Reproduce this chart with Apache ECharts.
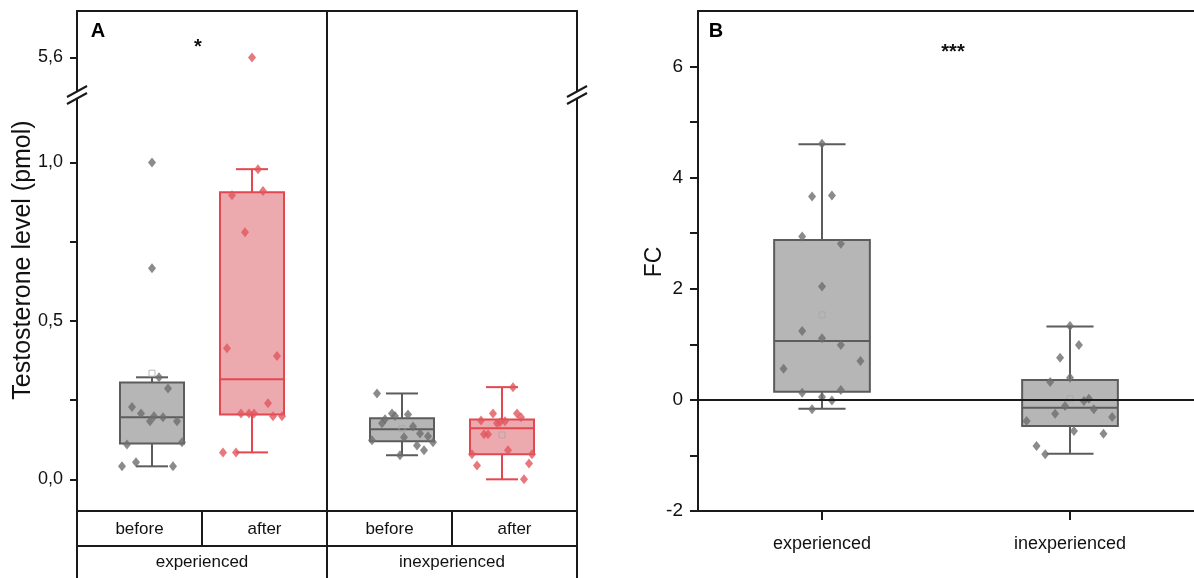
<!DOCTYPE html>
<html><head><meta charset="utf-8">
<script src="https://cdn.jsdelivr.net/npm/echarts@6/dist/echarts.min.js"></script>
<style>html,body{margin:0;padding:0;background:#fff}#c{width:1194px;height:578px}</style>
</head><body><div id="c"></div>
<script>
// ================= DATA =================
const groupsA = ['before', 'after', 'before', 'after'];
const experienceA = ['experienced', 'inexperienced'];
const categoriesB = ['experienced', 'inexperienced'];

const ticksALow = [0, 0.25, 0.5, 0.75, 1.0];
const labelsALow = [0, 0.5, 1.0];
const ticksAHigh = [5.6];
const ticksB = [-2, -1, 0, 1, 2, 3, 4, 5, 6];
const labelsB = [-2, 0, 2, 4, 6];

// box statistics: [whisker low, Q1, median, Q3, whisker high]
const boxExpBefore   = [0.041, 0.113, 0.196, 0.306, 0.322];
const boxExpAfter    = [0.085, 0.205, 0.316, 0.906, 0.979];
const boxInexpBefore = [0.076, 0.120, 0.158, 0.193, 0.271];
const boxInexpAfter  = [0.000, 0.079, 0.161, 0.189, 0.291];
const boxFcExp       = [-0.16, 0.145, 1.06, 2.88, 4.60];
const boxFcInexp     = [-0.97, -0.47, -0.14, 0.36, 1.32];

// means (hollow squares)
const meanExpBefore = 0.335;
const meanInexpBefore = 0.16;
const meanInexpAfter = 0.14;
const meanFcExp = 1.53;
const meanFcInexp = 0.02;

// individual values (testosterone, pmol)
const ptsExpBefore = [0.041, 0.054, 0.041, 0.110, 0.117, 0.228, 0.208, 0.183, 0.199, 0.196, 0.183, 0.287, 0.322, 0.666, 1.000];
const ptsExpAfter = [0.085, 0.085, 0.208, 0.208, 0.208, 0.199, 0.199, 0.240, 0.414, 0.389, 0.780, 0.897, 0.910, 0.979, 5.6];
const ptsInexpBefore = [0.271, 0.208, 0.200, 0.205, 0.190, 0.177, 0.167, 0.145, 0.136, 0.133, 0.123, 0.117, 0.107, 0.092, 0.076];
const ptsInexpAfter = [0.291, 0.208, 0.208, 0.196, 0.186, 0.177, 0.180, 0.183, 0.142, 0.142, 0.092, 0.079, 0.079, 0.044, 0.050, 0.000];
// individual values (FC)
const ptsFcExp = [4.61, 3.66, 3.68, 2.94, 2.81, 2.04, 1.24, 1.11, 0.99, 0.70, 0.56, 0.13, 0.18, 0.05, -0.01, -0.17];
const ptsFcInexp = [1.33, 0.99, 0.76, 0.40, 0.32, -0.02, 0.02, -0.11, -0.17, -0.25, -0.31, -0.38, -0.56, -0.61, -0.83, -0.98];

// horizontal jitter of points (in group-axis units)
const jitExpBefore = [-0.6, -0.32, 0.42, -0.5, 0.6, -0.4, -0.22, -0.04, 0.04, 0.22, 0.5, 0.32, 0.14, 0, 0];
const jitExpAfter = [-0.58, -0.32, -0.22, -0.06, 0.04, 0.42, 0.6, 0.32, -0.5, 0.5, -0.14, -0.4, 0.22, 0.12, 0];
const jitInexpBefore = [-0.5, -0.2, -0.14, 0.12, -0.34, -0.4, 0.22, 0.36, 0.52, 0.04, -0.6, 0.62, 0.3, 0.44, -0.04];
const jitInexpAfter = [0.22, -0.18, 0.3, 0.38, -0.42, -0.1, -0.04, 0.06, -0.36, -0.28, 0.12, -0.6, 0.6, -0.5, 0.54, 0.44];
const jitFcExp = [0, -0.04, 0.04, -0.08, 0.076, 0, -0.08, 0, 0.076, 0.155, -0.155, -0.08, 0.076, 0, 0.04, -0.04];
const jitFcInexp = [0, 0.036, -0.04, 0, -0.08, 0.056, 0.076, -0.02, 0.096, -0.06, 0.17, -0.175, 0.016, 0.135, -0.135, -0.1];

// ================= LAYOUT / STYLE =================
const posA = [1.5, 3.5, 6.5, 8.5];     // group centres on hidden 0..10 axis
const posB = [0.5, 1.5];               // group centres on hidden 0..2 axis
const breakValue = 3;                  // values above this go to upper segment
const FONT = '"Liberation Sans", Arial, sans-serif';
const AXC = '#1a1a1a';
const GREY = { fill: '#b6b6b6', stroke: '#5c5c5c', pt: '#6e6e6e' };
const RED = { fill: '#eca9ae', stroke: '#e3474f', pt: '#e0565e' };

const L = { aLeft: 77, aWidth: 500, aTop: 11, aBreak: 96, aBottom: 511, bLeft: 698, bWidth: 502 };

function fmtComma(v) { return v.toFixed(1).replace('.', ','); }

function boxRender(boxW, capW, col) {
  return function (params, api) {
    const x = api.value(0);
    const pMin = api.coord([x, api.value(1)]);
    const pQ1 = api.coord([x, api.value(2)]);
    const pMd = api.coord([x, api.value(3)]);
    const pQ3 = api.coord([x, api.value(4)]);
    const pMax = api.coord([x, api.value(5)]);
    const w = api.size([boxW, 0])[0];
    const cw = api.size([capW, 0])[0];
    const cx = pMd[0];
    const ls = { stroke: col.stroke, lineWidth: 2 };
    return {
      type: 'group', children: [
        { type: 'line', shape: { x1: cx, y1: pQ3[1], x2: cx, y2: pMax[1] }, style: ls },
        { type: 'line', shape: { x1: cx - cw / 2, y1: pMax[1], x2: cx + cw / 2, y2: pMax[1] }, style: ls },
        { type: 'line', shape: { x1: cx, y1: pQ1[1], x2: cx, y2: pMin[1] }, style: ls },
        { type: 'line', shape: { x1: cx - cw / 2, y1: pMin[1], x2: cx + cw / 2, y2: pMin[1] }, style: ls },
        { type: 'rect', shape: { x: cx - w / 2, y: pQ3[1], width: w, height: pQ1[1] - pQ3[1] }, style: { fill: col.fill, stroke: col.stroke, lineWidth: 2 } },
        { type: 'line', shape: { x1: cx - w / 2, y1: pMd[1], x2: cx + w / 2, y2: pMd[1] }, style: ls }
      ]
    };
  };
}

function pts(vals, jit, pos, keep) {
  const out = [];
  vals.forEach((v, i) => { if (keep(v)) out.push([pos + jit[i], v]); });
  return out;
}
const low = v => v <= breakValue, high = v => v > breakValue, all = () => true;

const diamond = { symbol: 'diamond', symbolSize: [8, 10] };

const chart = echarts.init(document.getElementById('c'), null, { renderer: 'canvas' });

function breakMark(cx, cy) {
  return [
    { type: 'polygon', shape: { points: [[cx - 10, cy + 2], [cx + 10, cy - 9], [cx + 10, cy - 2], [cx - 10, cy + 9]] }, style: { fill: '#fff' }, z: 100 },
    { type: 'line', shape: { x1: cx - 10, y1: cy + 2, x2: cx + 10, y2: cy - 9 }, style: { stroke: AXC, lineWidth: 2 }, z: 101 },
    { type: 'line', shape: { x1: cx - 10, y1: cy + 9, x2: cx + 10, y2: cy - 2 }, style: { stroke: AXC, lineWidth: 2 }, z: 101 }
  ];
}

const lineOnlyY = (grid, min, max) => ({
  gridIndex: grid, type: 'value', position: 'right', min, max,
  axisLine: { show: true, onZero: false, lineStyle: { color: AXC, width: 2 } },
  axisTick: { show: false }, axisLabel: { show: false }, splitLine: { show: false }
});

const option = {
  backgroundColor: '#fff',
  animation: false,
  grid: [
    { left: L.aLeft, width: L.aWidth, top: L.aTop, height: L.aBreak - L.aTop },
    { left: L.aLeft, width: L.aWidth, top: L.aBreak, height: L.aBottom - L.aBreak },
    { left: L.bLeft, width: L.bWidth, top: L.aTop, height: L.aBottom - L.aTop }
  ],
  xAxis: [
    { gridIndex: 0, type: 'value', min: 0, max: 10, position: 'top',
      axisLine: { show: true, onZero: false, lineStyle: { color: AXC, width: 2 } },
      axisTick: { show: false }, axisLabel: { show: false }, splitLine: { show: false } },
    { gridIndex: 1, type: 'value', min: 0, max: 10, show: false },
    { gridIndex: 1, type: 'category', data: groupsA, position: 'bottom',
      axisLine: { show: true, onZero: false, lineStyle: { color: AXC, width: 2 } },
      axisTick: { show: true, interval: 0, length: 35, inside: false, lineStyle: { color: AXC, width: 2 } },
      axisLabel: { interval: 0, margin: 10, fontSize: 17, color: '#111', fontFamily: FONT },
      splitLine: { show: false } },
    { gridIndex: 1, type: 'category', data: experienceA, position: 'bottom', offset: 35,
      axisLine: { show: true, onZero: false, lineStyle: { color: AXC, width: 2 } },
      axisTick: { show: true, interval: 0, length: 40, inside: false, lineStyle: { color: AXC, width: 2 } },
      axisLabel: { interval: 0, margin: 8, fontSize: 17, color: '#111', fontFamily: FONT },
      splitLine: { show: false } },
    { gridIndex: 2, type: 'value', min: 0, max: 2, position: 'top',
      axisLine: { show: true, onZero: false, lineStyle: { color: AXC, width: 2 } },
      axisTick: { show: false }, axisLabel: { show: false }, splitLine: { show: false } },
    { gridIndex: 2, type: 'category', data: categoriesB, position: 'bottom',
      axisLine: { show: true, onZero: false, lineStyle: { color: AXC, width: 2 } },
      axisTick: { show: true, alignWithLabel: true, length: 9, lineStyle: { color: AXC, width: 2 } },
      axisLabel: { interval: 0, margin: 24, fontSize: 18, color: '#111', fontFamily: FONT },
      splitLine: { show: false } }
  ],
  yAxis: [
    { gridIndex: 0, type: 'value', min: 5.478, max: 5.747, position: 'left',
      axisLine: { show: true, onZero: false, lineStyle: { color: AXC, width: 2 } },
      axisTick: { show: true, length: 7, customValues: ticksAHigh, lineStyle: { color: AXC, width: 2 } },
      axisLabel: { customValues: ticksAHigh, formatter: fmtComma, margin: 14, fontSize: 18, color: '#111', fontFamily: FONT },
      splitLine: { show: false } },
    lineOnlyY(0, 5.478, 5.747),
    { gridIndex: 1, type: 'value', min: -0.1, max: 1.21, position: 'left',
      axisLine: { show: true, onZero: false, lineStyle: { color: AXC, width: 2 } },
      axisTick: { show: true, length: 7, customValues: ticksALow, lineStyle: { color: AXC, width: 2 } },
      axisLabel: { customValues: labelsALow, formatter: fmtComma, margin: 14, fontSize: 18, color: '#111', fontFamily: FONT },
      splitLine: { show: false } },
    lineOnlyY(1, -0.1, 1.21),
    { gridIndex: 2, type: 'value', min: -2, max: 7, position: 'left',
      axisLine: { show: true, onZero: false, lineStyle: { color: AXC, width: 2 } },
      axisTick: { show: true, length: 8, customValues: ticksB, lineStyle: { color: AXC, width: 2 } },
      axisLabel: { customValues: labelsB, formatter: v => String(v), margin: 15, fontSize: 19, color: '#111', fontFamily: FONT },
      splitLine: { show: false } }
  ],
  series: [
    // ----- Panel A, lower segment -----
    { type: 'custom', xAxisIndex: 1, yAxisIndex: 2, z: 2,
      renderItem: boxRender(1.28, 0.64, GREY),
      data: [[posA[0], ...boxExpBefore], [posA[2], ...boxInexpBefore]],
      markLine: { silent: true, symbol: 'none', label: { show: false },
        lineStyle: { color: AXC, width: 2, type: 'solid' }, data: [{ xAxis: 5 }] } },
    { type: 'custom', xAxisIndex: 1, yAxisIndex: 2, z: 2,
      renderItem: boxRender(1.28, 0.64, RED),
      data: [[posA[1], ...boxExpAfter], [posA[3], ...boxInexpAfter]] },
    { type: 'scatter', xAxisIndex: 1, yAxisIndex: 2, z: 3, symbol: 'rect', symbolSize: 6,
      itemStyle: { color: 'rgba(255,255,255,0)', borderColor: '#a8a8a8', borderWidth: 1 },
      data: [[posA[0], meanExpBefore], [posA[2], meanInexpBefore], [posA[3], meanInexpAfter]] },
    { type: 'scatter', xAxisIndex: 1, yAxisIndex: 2, z: 4, ...diamond, itemStyle: { color: GREY.pt },
      data: pts(ptsExpBefore, jitExpBefore, posA[0], low).concat(pts(ptsInexpBefore, jitInexpBefore, posA[2], low)) },
    { type: 'scatter', xAxisIndex: 1, yAxisIndex: 2, z: 4, ...diamond, itemStyle: { color: RED.pt },
      data: pts(ptsExpAfter, jitExpAfter, posA[1], low).concat(pts(ptsInexpAfter, jitInexpAfter, posA[3], low)) },
    // ----- Panel A, upper segment -----
    { type: 'scatter', xAxisIndex: 0, yAxisIndex: 0, z: 4, ...diamond, itemStyle: { color: RED.pt },
      data: pts(ptsExpAfter, jitExpAfter, posA[1], high),
      markLine: { silent: true, symbol: 'none', label: { show: false },
        lineStyle: { color: AXC, width: 2, type: 'solid' }, data: [{ xAxis: 5 }] } },
    // ----- Panel B -----
    { type: 'custom', xAxisIndex: 4, yAxisIndex: 4, z: 2,
      renderItem: boxRender(0.386, 0.19, GREY),
      data: [[posB[0], ...boxFcExp], [posB[1], ...boxFcInexp]],
      markLine: { silent: true, symbol: 'none', label: { show: false },
        lineStyle: { color: AXC, width: 2, type: 'solid' }, data: [{ yAxis: 0 }] } },
    { type: 'scatter', xAxisIndex: 4, yAxisIndex: 4, z: 3, symbol: 'rect', symbolSize: 6,
      itemStyle: { color: 'rgba(255,255,255,0)', borderColor: '#a8a8a8', borderWidth: 1 },
      data: [[posB[0], meanFcExp], [posB[1], meanFcInexp]] },
    { type: 'scatter', xAxisIndex: 4, yAxisIndex: 4, z: 4, ...diamond, itemStyle: { color: GREY.pt },
      data: pts(ptsFcExp, jitFcExp, posB[0], all).concat(pts(ptsFcInexp, jitFcInexp, posB[1], all)) }
  ],
  graphic: [
    ...breakMark(L.aLeft, L.aBreak - 1),
    ...breakMark(L.aLeft + L.aWidth, L.aBreak - 1),
    { type: 'text', x: 98, y: 31, style: { text: 'A', fontSize: 20, fontWeight: 'bold', fontFamily: FONT, fill: '#000', align: 'center', verticalAlign: 'middle' } },
    { type: 'text', x: 716, y: 31, style: { text: 'B', fontSize: 20, fontWeight: 'bold', fontFamily: FONT, fill: '#000', align: 'center', verticalAlign: 'middle' } },
    { type: 'text', x: 198, y: 47, style: { text: '*', fontSize: 20, fontWeight: 'bold', fontFamily: FONT, fill: '#111', align: 'center', verticalAlign: 'middle' } },
    { type: 'text', x: 953, y: 52, style: { text: '***', fontSize: 20, fontWeight: 'bold', fontFamily: FONT, fill: '#111', align: 'center', verticalAlign: 'middle' } },
    { type: 'text', x: 23, y: 260, rotation: Math.PI / 2, style: { text: 'Testosterone level (pmol)', fontSize: 25, fontFamily: FONT, fill: '#111', align: 'center', verticalAlign: 'middle' } },
    { type: 'text', x: 655, y: 262, rotation: Math.PI / 2, style: { text: 'FC', fontSize: 23, fontFamily: FONT, fill: '#111', align: 'center', verticalAlign: 'middle' } }
  ]
};
chart.setOption(option);
</script>
</body></html>
